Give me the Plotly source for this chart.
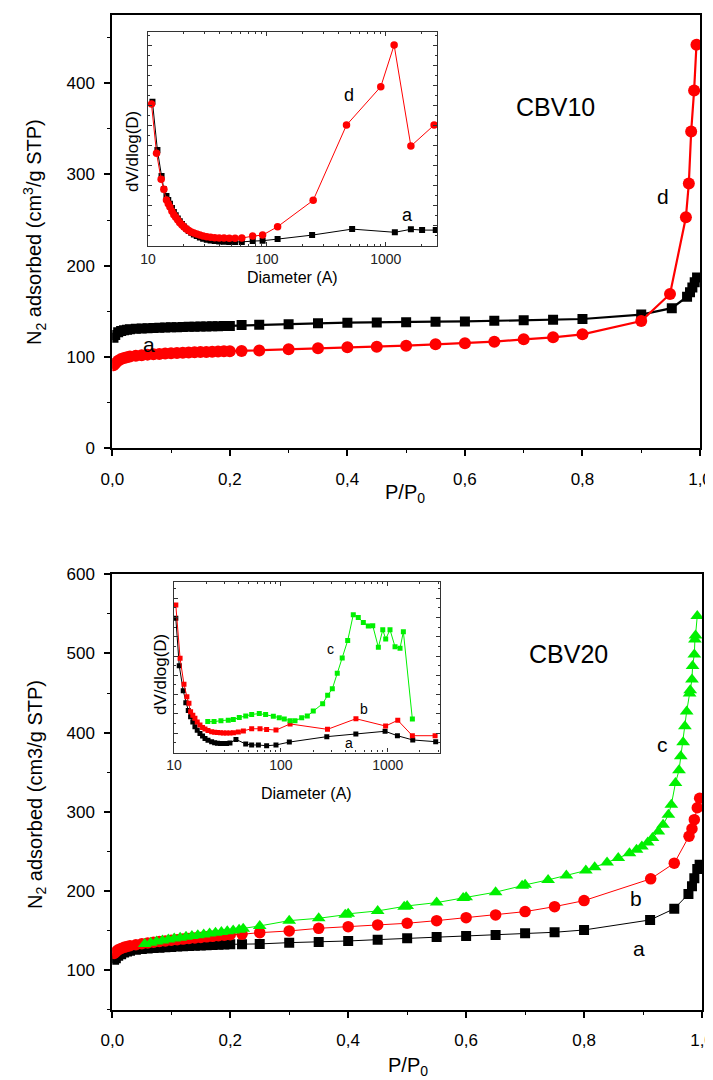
import plotly.graph_objects as go

# ---------------- DATA ----------------
# Top panel (CBV10) isotherms
p_top_a = [0.002, 0.005, 0.01, 0.015, 0.02, 0.025, 0.03, 0.04, 0.05, 0.06, 0.07, 0.08, 0.09, 0.10,
           0.11, 0.12, 0.13, 0.14, 0.15, 0.16, 0.17, 0.18, 0.19, 0.20, 0.22, 0.25, 0.30, 0.35, 0.40,
           0.45, 0.50, 0.55, 0.60, 0.65, 0.70, 0.75, 0.80, 0.90, 0.952, 0.978, 0.983, 0.987, 0.991, 0.995]
v_top_a = [121, 124, 127, 128.5, 129.3, 129.9, 130.3, 130.9, 131.3, 131.6, 131.9, 132.1, 132.3, 132.5,
           132.7, 132.9, 133.0, 133.2, 133.3, 133.5, 133.6, 133.8, 133.9, 134.0, 135.0, 135.2, 135.8, 136.9, 137.6,
           137.7, 138.0, 138.7, 139.0, 139.8, 140.2, 140.9, 141.6, 146.5, 153.5, 166, 171, 176, 182, 187]

p_top_d = [0.002, 0.005, 0.01, 0.015, 0.02, 0.025, 0.03, 0.04, 0.05, 0.06, 0.07, 0.08, 0.09, 0.10,
           0.11, 0.12, 0.13, 0.14, 0.15, 0.16, 0.17, 0.18, 0.19, 0.20, 0.22, 0.25, 0.30, 0.35, 0.40,
           0.45, 0.50, 0.55, 0.60, 0.65, 0.70, 0.75, 0.80, 0.90, 0.949, 0.976, 0.981, 0.985, 0.990, 0.994]
v_top_d = [91, 93, 96, 97.8, 99, 99.8, 100.5, 101.4, 102, 102.6, 103, 103.4, 103.8, 104.1,
           104.4, 104.7, 105.0, 105.2, 105.4, 105.6, 105.8, 106.0, 106.2, 106.4, 106.5, 107.0, 108.4, 109.5, 110.6,
           111.3, 112.4, 113.9, 115.0, 116.8, 119.4, 121.6, 124.8, 139.4, 169, 253, 290, 347, 392, 442]

# Top inset (pore size distribution, arbitrary units)
d_in_top_a = [10.9, 12.0, 13.0, 13.6, 14.3, 14.8, 15.3, 15.9, 16.5, 17.1, 17.8, 18.5, 19.3, 20.1, 21.0,
              22.0, 23.1, 24.3, 25.7, 27.3, 29.1, 31.2, 33.6, 36.4, 39.7, 43.6, 48.3, 54.0, 61.5, 76, 92,
              123, 240, 521, 1191, 1625, 2019, 2630]
y_in_top_a = [7.2, 4.78, 3.48, 2.82, 2.48, 2.28, 2.10, 1.88, 1.68, 1.52, 1.36, 1.22, 1.08, 0.96, 0.85,
              0.74, 0.65, 0.56, 0.48, 0.41, 0.35, 0.30, 0.26, 0.23, 0.21, 0.20, 0.19, 0.19, 0.19, 0.23, 0.25,
              0.33, 0.53, 0.83, 0.67, 0.82, 0.78, 0.78]
d_in_top_d = [10.7, 11.8, 12.9, 13.6, 14.3, 14.8, 15.3, 15.9, 16.5, 17.1, 17.8, 18.5, 19.3, 20.1, 21.0,
              22.0, 23.1, 24.3, 25.7, 27.3, 29.1, 31.2, 33.6, 36.4, 39.7, 43.6, 48.3, 54.0, 61.5, 76, 92,
              123, 245, 467, 907, 1175, 1625, 2547]
y_in_top_d = [7.08, 4.62, 3.32, 2.82, 2.28, 2.10, 1.93, 1.72, 1.55, 1.42, 1.28, 1.15, 1.04, 0.94, 0.84,
              0.76, 0.69, 0.63, 0.58, 0.53, 0.48, 0.45, 0.42, 0.40, 0.39, 0.38, 0.37, 0.37, 0.38, 0.48, 0.53,
              0.95, 2.27, 6.03, 7.95, 10.03, 4.98, 6.03]

# Bottom panel (CBV20) isotherms
p_bot_a = [0.003, 0.006, 0.01, 0.015, 0.02, 0.025, 0.03, 0.04, 0.05, 0.06, 0.07, 0.08, 0.09, 0.10,
           0.11, 0.12, 0.13, 0.14, 0.15, 0.16, 0.17, 0.18, 0.19, 0.20, 0.22, 0.25, 0.30, 0.35, 0.40,
           0.45, 0.50, 0.55, 0.60, 0.65, 0.70, 0.75, 0.80, 0.912, 0.953, 0.977, 0.983, 0.987, 0.992, 0.996]
v_bot_a = [113, 115, 118, 120, 122, 123.3, 124.3, 125.6, 126.5, 127.2, 127.8, 128.3, 128.8, 129.2,
           129.6, 130.0, 130.4, 130.8, 131.1, 131.4, 131.7, 132.0, 132.3, 132.5, 132.7, 133.0, 134.6, 135.4, 136.7,
           138.4, 140.1, 141.8, 143.0, 144.3, 146.4, 147.7, 150.6, 163.3, 177.5, 196, 206, 216, 227.5, 233]

p_bot_b = [0.003, 0.006, 0.01, 0.015, 0.02, 0.025, 0.03, 0.04, 0.05, 0.06, 0.07, 0.08, 0.09, 0.10,
           0.11, 0.12, 0.13, 0.14, 0.15, 0.16, 0.17, 0.18, 0.19, 0.20, 0.22, 0.25, 0.30, 0.35, 0.40,
           0.45, 0.50, 0.55, 0.60, 0.65, 0.70, 0.75, 0.80, 0.913, 0.953, 0.978, 0.983, 0.987, 0.992, 0.996]
v_bot_b = [121, 123, 125.5, 127.3, 128.7, 129.8, 130.7, 132.0, 133.2, 134.2, 135.1, 136.0, 136.8, 137.6,
           138.4, 139.1, 139.8, 140.5, 141.2, 141.9, 142.6, 143.3, 144.0, 144.6, 145.2, 147.2, 149.4, 152.7, 154.8,
           157.0, 159.1, 162.4, 166.2, 169.6, 173.8, 180.1, 187.7, 215.2, 235, 269, 278.5, 290, 305, 317]

p_bot_c = [0.055, 0.065, 0.075, 0.085, 0.095, 0.105, 0.115, 0.125, 0.135, 0.145, 0.155, 0.165, 0.175,
           0.185, 0.195, 0.205, 0.215, 0.222, 0.25, 0.30, 0.35, 0.395, 0.40, 0.45, 0.495, 0.50, 0.55, 0.595,
           0.60, 0.65, 0.695, 0.70, 0.739, 0.77, 0.803, 0.818, 0.839, 0.858, 0.877, 0.889, 0.898, 0.908,
           0.916, 0.926, 0.934, 0.943, 0.948, 0.955, 0.961, 0.964, 0.968, 0.971, 0.974, 0.979, 0.980,
           0.983, 0.984, 0.987, 0.988, 0.989, 0.992]
v_bot_c = [133, 134.5, 136, 137.3, 138.5, 139.7, 140.8, 141.9, 143, 144, 145, 146, 147,
           148, 149, 150, 151, 152, 155.7, 162.4, 165.4, 169.8, 171.0, 174.7, 180.0, 181.0, 185.2, 191.0,
           192.0, 198.4, 206.5, 207.6, 213.9, 219.4, 225.7, 230.0, 235.9, 241.4, 247.7, 252.0, 256.0, 261.0,
           266.7, 275.0, 283.5, 296.2, 308.9, 336.3, 352.3, 370.0, 387.7, 408.0, 426.6, 449.4, 453.5,
           467.0, 484.0, 498.7, 517.7, 522.8, 547.2]

# Bottom inset (pore size distribution, arbitrary units)
d_in_bot_a = [10.4, 11.2, 12.2, 12.9, 13.6, 14.3, 15.0, 15.7, 16.5, 17.5, 18.5, 19.5, 20.8, 22.5, 24.0,
              25.5, 27.2, 29.0, 31.0, 33.4, 38, 46.9, 53.3, 61.6, 73.6, 90, 120, 269, 503, 944, 1232, 1714, 2810]
y_in_bot_a = [6.95, 4.5, 3.2, 2.58, 2.17, 1.85, 1.58, 1.34, 1.15, 0.99, 0.85, 0.73, 0.63, 0.56, 0.51,
              0.48, 0.47, 0.46, 0.47, 0.49, 0.68, 0.44, 0.39, 0.39, 0.35, 0.39, 0.54, 0.82, 0.96, 1.10, 0.87,
              0.65, 0.56]
d_in_bot_b = [10.4, 11.4, 12.4, 13.2, 13.8, 14.3, 15.0, 15.7, 16.5, 17.5, 18.5, 19.5, 20.8, 22.5, 24.0,
              25.5, 27.2, 29.0, 31.0, 33.4, 36, 40, 44.6, 53.3, 63.8, 73.6, 90, 122, 273, 504, 955, 1241, 1700, 2774]
y_in_bot_b = [7.64, 4.88, 3.53, 2.89, 2.55, 2.11, 1.93, 1.77, 1.58, 1.42, 1.30, 1.22, 1.14, 1.08, 1.05,
              1.03, 1.02, 1.01, 1.01, 1.01, 1.02, 1.06, 1.11, 1.23, 1.23, 1.19, 1.16, 1.48, 1.20, 1.75, 1.37,
              1.67, 0.87, 0.87]
d_in_bot_c = [20.7, 23.7, 27.5, 32.2, 35.9, 40.8, 46.9, 53.3, 62.8, 72, 85, 96.6, 107.6, 122, 135.6, 156.6,
              176.7, 201, 246, 274, 303, 337, 375, 422, 476, 530, 591, 658, 724, 817, 898, 957, 1050, 1170,
              1303, 1400, 1700]
y_in_bot_c = [1.6, 1.6, 1.65, 1.67, 1.71, 1.81, 1.89, 1.97, 2.02, 1.97, 1.88, 1.8, 1.73, 1.65, 1.64, 1.8,
              1.89, 2.15, 2.53, 2.96, 3.3, 4.1, 4.9, 5.8, 7.14, 7.0, 6.74, 6.55, 6.57, 5.45, 6.36, 5.88, 6.36,
              5.48, 5.4, 6.26, 1.73]

# Tick labels
x_tickvals = [0, 0.2, 0.4, 0.6, 0.8, 1.0]
x_ticktext = ["0,0", "0,2", "0,4", "0,6", "0,8", "1,0"]
y_top_ticks = [0, 100, 200, 300, 400]
y_bot_ticks = [100, 200, 300, 400, 500, 600]
log_major = [10, 100, 1000]
log_minor = [20, 30, 40, 50, 60, 70, 80, 90, 200, 300, 400, 500, 600, 700, 800, 900, 2000, 3000]

# ---------------- FIGURE ----------------
# The page body keeps an 8 px margin, so the figure is drawn 8 px smaller and
# all layout positions below are given in window pixels and shifted by it.
OFF = 8
W, H = 713 - OFF, 1080 - OFF
FONT = "Liberation Sans, Arial, sans-serif"
BLACK, RED, GREEN = "#000000", "#ff0000", "#00f000"


def px(x):
    return (x - OFF) / W


def py(y):
    return 1 - (y - OFF) / H


fig = go.Figure()

# top main
fig.add_trace(go.Scatter(x=p_top_a, y=v_top_a, mode="lines+markers", xaxis="x", yaxis="y",
                         line=dict(color=BLACK, width=2.2),
                         marker=dict(symbol="square", size=10, color=BLACK)))
fig.add_trace(go.Scatter(x=p_top_d, y=v_top_d, mode="lines+markers", xaxis="x", yaxis="y",
                         line=dict(color=RED, width=2.2),
                         marker=dict(symbol="circle", size=12, color=RED)))
# top inset
fig.add_trace(go.Scatter(x=d_in_top_a, y=y_in_top_a, mode="lines+markers", xaxis="x3", yaxis="y3",
                         line=dict(color=BLACK, width=1),
                         marker=dict(symbol="square", size=6, color=BLACK)))
fig.add_trace(go.Scatter(x=d_in_top_d, y=y_in_top_d, mode="lines+markers", xaxis="x3", yaxis="y3",
                         line=dict(color=RED, width=1),
                         marker=dict(symbol="circle", size=7.5, color=RED)))
# bottom main
fig.add_trace(go.Scatter(x=p_bot_a, y=v_bot_a, mode="lines+markers", xaxis="x2", yaxis="y2",
                         line=dict(color=BLACK, width=1),
                         marker=dict(symbol="square", size=10, color=BLACK)))
fig.add_trace(go.Scatter(x=p_bot_b, y=v_bot_b, mode="lines+markers", xaxis="x2", yaxis="y2",
                         line=dict(color=RED, width=1),
                         marker=dict(symbol="circle", size=11.5, color=RED)))
fig.add_trace(go.Scatter(x=p_bot_c, y=v_bot_c, mode="lines+markers", xaxis="x2", yaxis="y2",
                         line=dict(color=GREEN, width=1),
                         marker=dict(symbol="triangle-up", size=12, color=GREEN)))
# bottom inset
fig.add_trace(go.Scatter(x=d_in_bot_a, y=y_in_bot_a, mode="lines+markers", xaxis="x4", yaxis="y4",
                         line=dict(color=BLACK, width=1),
                         marker=dict(symbol="square", size=5, color=BLACK)))
fig.add_trace(go.Scatter(x=d_in_bot_b, y=y_in_bot_b, mode="lines+markers", xaxis="x4", yaxis="y4",
                         line=dict(color=RED, width=1),
                         marker=dict(symbol="square", size=5, color=RED)))
fig.add_trace(go.Scatter(x=d_in_bot_c, y=y_in_bot_c, mode="lines+markers", xaxis="x4", yaxis="y4",
                         line=dict(color=GREEN, width=1),
                         marker=dict(symbol="square", size=5, color=GREEN)))

main_common = dict(showgrid=False, zeroline=False, showline=True, linecolor=BLACK, linewidth=2,
                   mirror=True, ticks="outside", ticklen=6, tickwidth=1.5, tickcolor=BLACK,
                   automargin=False, ticklabeloverflow="allow",
                   tickfont=dict(family=FONT, size=17, color=BLACK))
# mirrored (top / right) axes of the main panels: ticks point inward, no labels
mirror_common = dict(showgrid=False, zeroline=False, showline=False, ticks="inside", ticklen=5,
                     tickwidth=1.3, tickcolor=BLACK, showticklabels=False, automargin=False)
inset_common = dict(showgrid=False, zeroline=False, showline=True, linecolor="#333333", linewidth=1.2,
                    mirror="ticks", ticks="inside", ticklen=4, tickwidth=1, tickcolor="#333333",
                    automargin=False,
                    tickfont=dict(family=FONT, size=14, color="#222222"))

fig.update_layout(
    width=W, height=H, margin=dict(l=0, r=0, t=0, b=0, pad=0, autoexpand=False),
    paper_bgcolor="white", plot_bgcolor="white", showlegend=False,
    font=dict(family=FONT, color=BLACK),
    xaxis=dict(domain=[px(112.3), px(700)], anchor="y", range=[0, 1],
               tickvals=x_tickvals, ticktext=x_ticktext, ticklabelstandoff=8,
               minor=dict(dtick=0.1, ticks="outside", ticklen=3, tickwidth=1.2, tickcolor=BLACK),
               **main_common),
    yaxis=dict(domain=[py(448.3), py(15)], anchor="x", range=[0, 474.6],
               tickvals=y_top_ticks, ticklabelstandoff=6,
               minor=dict(dtick=50, ticks="outside", ticklen=3, tickwidth=1.2, tickcolor=BLACK),
               **main_common),
    xaxis2=dict(domain=[px(112.3), px(702)], anchor="y2", range=[0, 1],
                tickvals=x_tickvals, ticktext=x_ticktext, ticklabelstandoff=8,
                minor=dict(dtick=0.1, ticks="outside", ticklen=3, tickwidth=1.2, tickcolor=BLACK),
                **main_common),
    yaxis2=dict(domain=[py(1009.6), py(574.3)], anchor="x2", range=[50, 600],
                tickvals=y_bot_ticks, ticklabelstandoff=6,
                minor=dict(dtick=50, ticks="outside", ticklen=3, tickwidth=1.2, tickcolor=BLACK),
                **main_common),
    xaxis5=dict(overlaying="x", side="top", anchor="y", range=[0, 1], dtick=0.1, **mirror_common),
    yaxis5=dict(overlaying="y", side="right", anchor="x", range=[0, 474.6], dtick=50, **mirror_common),
    xaxis6=dict(overlaying="x2", side="top", anchor="y2", range=[0, 1], dtick=0.1, **mirror_common),
    yaxis6=dict(overlaying="y2", side="right", anchor="x2", range=[50, 600], dtick=50, **mirror_common),
    xaxis3=dict(domain=[px(148), px(437.3)], anchor="y3", type="log", range=[1, 3.433],
                tickvals=log_major, ticktext=[str(v) for v in log_major],
                minor=dict(tickvals=log_minor, ticks="inside", ticklen=2, tickwidth=1, tickcolor="#333333"),
                **inset_common),
    yaxis3=dict(domain=[py(245.7), py(32.3)], anchor="x3", range=[0, 10.67], dtick=1,
                showticklabels=False,
                minor=dict(dtick=0.5, ticks="inside", ticklen=2, tickwidth=1, tickcolor="#333333"),
                **inset_common),
    xaxis4=dict(domain=[px(174), px(440)], anchor="y4", type="log", range=[1, 3.489],
                tickvals=log_major, ticktext=[str(v) for v in log_major],
                minor=dict(tickvals=log_minor, ticks="inside", ticklen=2, tickwidth=1, tickcolor="#333333"),
                **inset_common),
    yaxis4=dict(domain=[py(752.5), py(581.7)], anchor="x4", range=[0, 8.85], dtick=1,
                showticklabels=False,
                minor=dict(dtick=0.5, ticks="inside", ticklen=2, tickwidth=1, tickcolor="#333333"),
                **inset_common),
)


def ann(text, x, y, size, angle=0, color=BLACK):
    fig.add_annotation(text=text, x=px(x), y=py(y), xref="paper", yref="paper",
                       showarrow=False, textangle=angle, xanchor="center", yanchor="middle",
                       font=dict(family=FONT, size=size, color=color))


# axis titles
ann("N<sub>2</sub> adsorbed (cm<sup>3</sup>/g STP)", 35, 232, 20, angle=-90)
ann("P/P<sub>0</sub>", 405, 493, 20)
ann("N<sub>2</sub> adsorbed (cm3/g STP)", 36, 795, 20, angle=-90)
ann("P/P<sub>0</sub>", 408, 1066, 20)
ann("Diameter (A)", 292, 277, 16)
ann("dV/dlog(D)", 133, 152, 17, angle=-90)
ann("Diameter (A)", 306, 793, 16)
ann("dV/dlog(D)", 160, 675, 17, angle=-90)

# panel labels
ann("CBV10", 555, 107, 25)
ann("d", 663, 196, 21)
ann("a", 149, 344, 21)
ann("d", 349, 95, 18)
ann("a", 407, 215, 18)
ann("CBV20", 568, 654, 25)
ann("c", 662, 744, 21)
ann("b", 636, 898, 21)
ann("a", 639, 948, 21)
ann("c", 330, 649, 14)
ann("b", 364, 709, 14)
ann("a", 349, 743, 14)

fig.write_html("out.html")
